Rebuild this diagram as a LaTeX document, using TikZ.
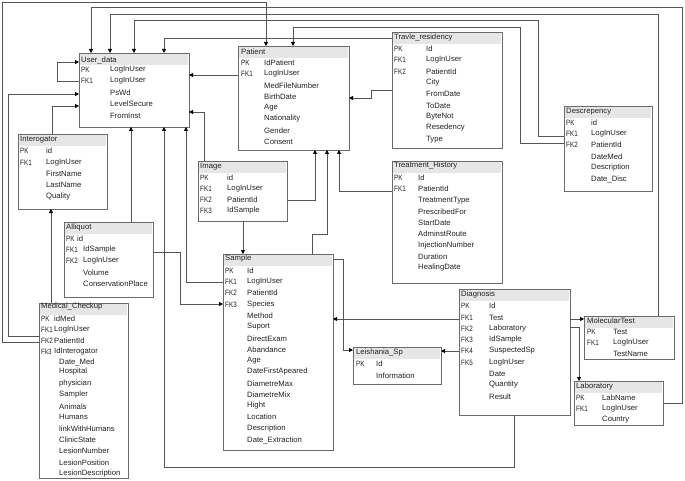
\documentclass[tikz,border=0pt]{standalone}
\usepackage{fontspec}
\setmainfont{Liberation Sans}
\newfontfamily\keyfont[FakeStretch=0.82]{Liberation Sans}
\usetikzlibrary{arrows.meta}
\definecolor{bordc}{HTML}{6A6A6A}
\definecolor{hdrc}{HTML}{E6E6E6}
\definecolor{linec}{HTML}{555555}
\definecolor{txtc}{HTML}{222222}
\newcounter{tn}
\newcommand\tx[3]{\stepcounter{tn}\node[txt] (tx\arabic{tn}) at (#1,#2) {#3};}
\newcommand\tk[3]{\stepcounter{tn}\node[txt,font=\keyfont\fontsize{7.7}{8}\selectfont] (tx\arabic{tn}) at (#1,#2) {#3};}
\newcommand\tbl[5]{\node[tblbox,minimum width=#4pt,minimum height=#5pt,anchor=north west] (#1) at (#2,#3) {};\fill[hdrc] ([shift={(0.6pt,-0.6pt)}]#1.north west) rectangle ([shift={(-0.6pt,-12pt)}]#1.north east);}
\begin{document}
\begin{tikzpicture}[x=1pt,y=-1pt,
 tblbox/.style={draw=bordc,line width=0.9pt,inner sep=0pt,outer sep=0pt,fill=white},
 txt/.style={anchor=west,inner sep=0pt,font=\fontsize{7.7}{8}\selectfont,text=txtc},
 conn/.style={draw=linec,line width=0.8pt,-{Triangle[length=4pt,width=4pt,color=black]}}]
\useasboundingbox (0,0) rectangle (685,481);

% tables
\tbl{user}{79}{53}{110}{74}
\tbl{patient}{238}{46}{111}{104}
\tbl{travle}{392}{32}{110}{116}
\tbl{descr}{564}{106}{88}{85}
\tbl{treat}{392}{161}{110}{122}
\tbl{image}{198}{161}{89}{60}
\tbl{interog}{18}{134}{89}{75}
\tbl{alliq}{64}{222}{89}{75}
\tbl{medical}{39}{303}{89}{175}
\tbl{sample}{223}{254}{110}{196}
\tbl{leish}{353}{347}{88}{37}
\tbl{diag}{459}{289}{111}{126}
\tbl{molec}{584}{316}{90}{43}
\tbl{lab}{574}{381}{89}{44}

% User_data
\tx{81}{60}{User\_data}
\tk{81}{70}{PK}\tx{110}{70}{LogInUser}
\tk{81}{81}{FK1}\tx{110}{81}{LogInUser}
\tx{110}{93}{PsWd}
\tx{110}{104}{LevelSecure}
\tx{110}{116}{FromInst}
% Patient
\tx{241}{52}{Patient}
\tk{241}{63}{PK}\tx{264}{63}{IdPatient}
\tk{241}{74}{FK1}\tx{264}{74}{LogInUser}
\tx{264}{86}{MedFileNumber}
\tx{264}{97}{BirthDate}
\tx{264}{108}{Age}
\tx{264}{119}{Nationality}
\tx{264}{131}{Gender}
\tx{264}{142}{Consent}
% Travle_residency
\tx{394}{38}{Travle\_residency}
\tk{394}{49}{PK}\tx{426}{49}{Id}
\tk{394}{60}{FK1}\tx{426}{60}{LogInUser}
\tk{394}{72}{FK2}\tx{426}{72}{PatientId}
\tx{426}{83}{City}
\tx{426}{94}{FromDate}
\tx{426}{106}{ToDate}
\tx{426}{117}{ByteNot}
\tx{426}{128}{Resedency}
\tx{426}{140}{Type}
% Descrepency
\tx{566}{112}{Descrepency}
\tk{566}{123}{PK}\tx{591}{123}{id}
\tk{566}{134}{FK1}\tx{591}{134}{LogInUser}
\tk{566}{145}{FK2}\tx{591}{145}{PatientId}
\tx{591}{157}{DateMed}
\tx{591}{168}{Description}
\tx{591}{179}{Date\_Disc}
% Treatment_History
\tx{394}{166}{Treatment\_History}
\tk{394}{178}{PK}\tx{418}{178}{Id}
\tk{394}{189}{FK1}\tx{418}{189}{PatientId}
\tx{418}{201}{TreatmentType}
\tx{418}{212}{PrescribedFor}
\tx{418}{223}{StartDate}
\tx{418}{234}{AdminstRoute}
\tx{418}{246}{InjectionNumber}
\tx{418}{257}{Duration}
\tx{418}{268}{HealingDate}
% Image
\tx{200}{167}{Image}
\tk{200}{178}{PK}\tx{227}{178}{id}
\tk{200}{189}{FK1}\tx{227}{189}{LogInUser}
\tk{200}{200}{FK2}\tx{227}{200}{PatientId}
\tk{200}{211}{FK3}\tx{227}{211}{IdSample}
% Interogator
\tx{20}{140}{Interogator}
\tk{20}{151}{PK}\tx{46}{151}{id}
\tk{20}{163}{FK1}\tx{46}{163}{LogInUser}
\tx{46}{174}{FirstName}
\tx{46}{185}{LastName}
\tx{46}{197}{Quality}
% Alliquot
\tx{66}{228}{Alliquot}
\tk{66}{239}{PK}\tx{77}{239}{id}
\tk{66}{250}{FK1}\tx{83}{250}{IdSample}
\tk{66}{261}{FK2}\tx{83}{261}{LogInUser}
\tx{83}{273}{Volume}
\tx{83}{284}{ConservationPlace}
% Medical_Checkup
\tx{41}{307}{Medical\_Checkup}
\tk{41}{319}{PK}\tx{54}{319}{idMed}
\tk{41}{330}{FK1}\tx{54}{330}{LogInUser}
\tk{41}{341}{FK2}\tx{54}{341}{PatientId}
\tk{41}{352}{Fk3}\tx{54}{352}{IdInterogator}
\tx{59}{362}{Date\_Med}
\tx{59}{372}{Hospital}
\tx{59}{384}{physician}
\tx{59}{395}{Sampler}
\tx{59}{407}{Animals}
\tx{59}{417}{Humans}
\tx{59}{429}{linkWithHumans}
\tx{59}{440}{ClinicState}
\tx{59}{451}{LesionNumber}
\tx{59}{463}{LesionPosition}
\tx{59}{474}{LesionDescription}
% Sample
\tx{225}{259}{Sample}
\tk{225}{271}{PK}\tx{247}{271}{Id}
\tk{225}{282}{FK1}\tx{247}{282}{LogInUser}
\tk{225}{293}{FK2}\tx{247}{293}{PatientId}
\tk{225}{305}{FK3}\tx{247}{305}{Species}
\tx{247}{316}{Method}
\tx{247}{327}{Suport}
\tx{247}{339}{DirectExam}
\tx{247}{350}{Abandance}
\tx{247}{361}{Age}
\tx{247}{372}{DateFirstApeared}
\tx{247}{384}{DiametreMax}
\tx{247}{395}{DiametreMix}
\tx{247}{406}{Hight}
\tx{247}{417}{Location}
\tx{247}{429}{Description}
\tx{247}{440}{Date\_Extraction}
% Leishania_Sp
\tx{356}{353}{Leishania\_Sp}
\tk{356}{364}{PK}\tx{376}{364}{Id}
\tx{376}{376}{Information}
% Diagnosis
\tx{461}{295}{Diagnosis}
\tk{461}{306}{PK}\tx{489}{306}{Id}
\tk{461}{318}{FK1}\tx{489}{318}{Test}
\tk{461}{329}{FK2}\tx{489}{329}{Laboratory}
\tk{461}{340}{FK3}\tx{489}{340}{IdSample}
\tk{461}{351}{FK4}\tx{489}{351}{SuspectedSp}
\tk{461}{363}{FK5}\tx{489}{363}{LogInUser}
\tx{489}{374}{Date}
\tx{489}{385}{Quantity}
\tx{489}{397}{Result}
% MolecularTest
\tx{587}{321}{MolecularTest}
\tk{587}{332}{PK}\tx{613}{332}{Test}
\tk{587}{343}{FK1}\tx{613}{343}{LogInUser}
\tx{613}{354}{TestName}
% Laboratory
\tx{576}{387}{Laboratory}
\tk{576}{398}{PK}\tx{602}{398}{LabName}
\tk{576}{409}{FK1}\tx{602}{409}{LogInUser}
\tx{602}{420}{Country}

% connectors
\draw[conn] ([yshift=-22pt]lab.north east) -- (682,403) -- (682,7) -| ([xshift=12pt]user.north west);
\draw[conn] ([xshift=74pt]molec.north west) -- (658,14) -| ([xshift=31pt]user.north west);
\draw[conn] ([yshift=-30pt]descr.north west) -- (538,136) -- (538,20) -| ([xshift=55pt]user.north west);
\draw[conn] ([yshift=-37pt]descr.north west) -- (520,143) -- (520,27) -| ([xshift=55pt]patient.north west);
\draw[conn] ([yshift=-6pt]travle.north west) -| ([xshift=85pt]user.north west);
\draw[conn] ([yshift=-58pt]travle.north west) -- (371,90) -- (371,98) -- ([yshift=-52pt]patient.north east);
\draw[conn] ([yshift=-29pt]patient.north west) -- ([yshift=-22pt]user.north east);
\draw[conn] ([yshift=-28pt]user.north west) -- (57,81) -- (57,62) -- ([yshift=-9pt]user.north west);
\draw[conn] ([yshift=-33pt]medical.north west) -- (8,336) -- (8,94) -- ([yshift=-41pt]user.north west);
\draw[conn] ([yshift=-39pt]medical.north west) -- (2,342) -- (2,2) -| ([xshift=28pt]patient.north west);
\draw[conn] ([xshift=34pt]interog.north west) |- ([yshift=-53pt]user.north west);
\draw[conn] ([xshift=6pt]image.north west) |- ([yshift=-59pt]user.north east);
\draw[conn] ([xshift=67pt]alliq.north west) -- ([xshift=52pt]user.south west);
\draw[conn] ([xshift=55pt]diag.south west) -- (514,467) -| ([xshift=85pt]user.south west);
\draw[conn] ([yshift=-28pt]sample.north west) -| ([xshift=107pt]user.south west);
\draw[conn] ([xshift=12pt]medical.north west) -- ([xshift=33pt]interog.south west);
\draw[conn] ([yshift=-30pt]alliq.north east) -- (180,252) |- ([yshift=-50pt]sample.north west);
\draw[conn] ([xshift=45pt]image.south west) -- ([xshift=20pt]sample.north west);
\draw[conn] ([yshift=-39pt]image.north east) -| ([xshift=77pt]patient.south west);
\draw[conn] ([xshift=89pt]sample.north west) -- (312,234) -| ([xshift=89pt]patient.south west);
\draw[conn] ([yshift=-30pt]treat.north west) -| ([xshift=101pt]patient.south west);
\draw[conn] ([yshift=-5pt]sample.north east) -- (343,259) |- ([yshift=-3pt]leish.north west);
\draw[conn] ([yshift=-30pt]diag.north west) -- ([yshift=-65pt]sample.north east);
\draw[conn] ([yshift=-62pt]diag.north west) -- ([yshift=-4pt]leish.north east);
\draw[conn] ([yshift=-30pt]diag.north east) -- ([yshift=-3pt]molec.north west);
\draw[conn] ([yshift=-38pt]diag.north east) -| ([xshift=5pt]lab.north west);
\end{tikzpicture}
\end{document}
